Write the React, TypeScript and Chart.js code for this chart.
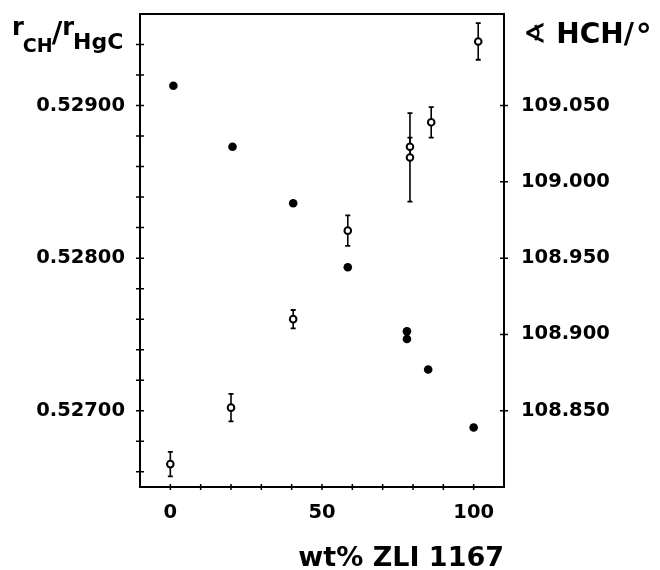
import React, { useEffect, useRef } from 'react';
import { Chart, registerables } from 'chart.js';

Chart.register(...registerables);

// ---- data ----
const ratioWt = [1, 20.5, 40.5, 58.5, 78, 78, 85, 100];
const ratioValues = [0.52913, 0.52873, 0.52836, 0.52794, 0.52752, 0.52747, 0.52727, 0.52689];

const angleWt = [0, 20, 40.5, 58.5, 79, 79, 86, 101.5];
const angleValues = [108.815, 108.852, 108.910, 108.968, 109.023, 109.016, 109.039, 109.092];
const angleErrors = [0.008, 0.009, 0.006, 0.010, 0.006, 0.029, 0.010, 0.012];

// ---- axes ----
const xMin = -10;
const xMax = 110;
const xTickValues = [0, 10, 20, 30, 40, 50, 60, 70, 80, 90, 100];
const xLabelValues = [0, 50, 100];

const leftMin = 0.5265;
const leftMax = 0.5296;
const leftMinorTicks = [0.5266, 0.5268, 0.527, 0.5272, 0.5274, 0.5276, 0.5278, 0.528, 0.5282, 0.5284, 0.5286, 0.5288, 0.529, 0.5292, 0.5294];
const leftLabelValues = [0.527, 0.528, 0.529];

const rightMin = 108.8;
const rightMax = 109.11;
const rightLabelValues = [108.85, 108.9, 108.95, 109.0, 109.05];

const xTitle = 'wt% ZLI 1167';
const FONT = 'DejaVu Sans';

const framePlugin = {
  id: 'framePlugin',
  beforeDatasetsDraw(chart: any) {
    const ctx = chart.ctx;
    const xs = chart.scales.x;
    const ys = chart.scales.y1;
    ctx.save();
    ctx.strokeStyle = '#000';
    for (let i = 0; i < angleWt.length; i++) {
      const px = xs.getPixelForValue(angleWt[i]);
      const top = ys.getPixelForValue(angleValues[i] + angleErrors[i]);
      const bot = ys.getPixelForValue(angleValues[i] - angleErrors[i]);
      ctx.lineWidth = 1.6;
      ctx.beginPath();
      ctx.moveTo(px, top);
      ctx.lineTo(px, bot);
      ctx.stroke();
      ctx.lineWidth = 1.8;
      ctx.beginPath();
      ctx.moveTo(px - 2.5, top);
      ctx.lineTo(px + 2.5, top);
      ctx.moveTo(px - 2.5, bot);
      ctx.lineTo(px + 2.5, bot);
      ctx.stroke();
    }
    ctx.restore();
  },
  afterDraw(chart: any) {
    const ctx = chart.ctx;
    const a = chart.chartArea;
    const xs = chart.scales.x;
    const yl = chart.scales.y;
    const yr = chart.scales.y1;
    ctx.save();
    ctx.strokeStyle = '#000';
    ctx.lineWidth = 2;
    ctx.strokeRect(a.left, a.top, a.right - a.left, a.bottom - a.top);
    ctx.lineWidth = 1.5;
    ctx.beginPath();
    for (const v of leftMinorTicks) {
      const py = yl.getPixelForValue(v);
      ctx.moveTo(a.left - 4, py);
      ctx.lineTo(a.left + 4, py);
    }
    for (const v of rightLabelValues) {
      const py = yr.getPixelForValue(v);
      ctx.moveTo(a.right - 4, py);
      ctx.lineTo(a.right + 4, py);
    }
    for (const v of xTickValues) {
      const px = xs.getPixelForValue(v);
      ctx.moveTo(px, a.bottom - 3);
      ctx.lineTo(px, a.bottom + 3);
    }
    ctx.stroke();

    ctx.fillStyle = '#000';
    ctx.textBaseline = 'alphabetic';
    // x title
    ctx.textAlign = 'right';
    ctx.font = `bold 27px "${FONT}"`;
    ctx.fillText(xTitle, a.right, 566);

    // left title r_CH / r_HgC
    ctx.textAlign = 'left';
    let x = 12;
    ctx.font = `bold 24px "${FONT}"`;
    ctx.fillText('r', x, 35);
    x += ctx.measureText('r').width - 1;
    ctx.font = `bold 19px "${FONT}"`;
    ctx.fillText('CH', x, 52);
    x += ctx.measureText('CH').width - 1;
    ctx.font = `bold 29px "${FONT}"`;
    ctx.fillText('/', x, 42);
    x += ctx.measureText('/').width;
    ctx.font = `bold 24px "${FONT}"`;
    ctx.fillText('r', x, 35);
    x += ctx.measureText('r').width - 1;
    ctx.font = `bold 22px "${FONT}"`;
    ctx.fillText('HgC', x, 49);

    // right title
    let rx = 523;
    ctx.font = `bold 28px "${FONT}"`;
    ctx.fillText('\u2222 HCH/', rx, 43);
    rx += ctx.measureText('\u2222 HCH/').width + 2;
    ctx.font = `bold 32px "${FONT}"`;
    ctx.fillText('\u00B0', rx, 47);
    ctx.restore();
  },
};

export default function App() {
  const ref = useRef<HTMLCanvasElement | null>(null);

  useEffect(() => {
    if (!ref.current) return;
    const tickFont = { family: FONT, size: 19.5, weight: 'bold' as const };
    const chart = new Chart(ref.current, {
      type: 'scatter',
      data: {
        datasets: [
          {
            label: 'r_CH/r_HgC',
            data: ratioWt.map((w, i) => ({ x: w, y: ratioValues[i] })),
            yAxisID: 'y',
            backgroundColor: '#000',
            borderColor: '#000',
            pointRadius: 4.3,
            borderWidth: 0,
          },
          {
            label: 'HCH',
            data: angleWt.map((w, i) => ({ x: w, y: angleValues[i] })),
            yAxisID: 'y1',
            backgroundColor: '#fff',
            borderColor: '#000',
            pointRadius: 3.3,
            borderWidth: 2,
          },
        ],
      },
      options: {
        responsive: false,
        animation: false,
        devicePixelRatio: 1,
        layout: { padding: { top: 14, left: 0, right: 0, bottom: 0 } },
        plugins: { legend: { display: false }, tooltip: { enabled: false } },
        scales: {
          x: {
            type: 'linear',
            position: 'bottom',
            min: xMin,
            max: xMax,
            afterBuildTicks: (s: any) => {
              s.ticks = xLabelValues.map((v) => ({ value: v }));
            },
            afterFit: (s: any) => {
              s.height = 83;
              s.paddingLeft = 0;
              s.paddingRight = 0;
            },
            ticks: { font: tickFont, color: '#000', padding: 14, maxRotation: 0, autoSkip: false, callback: (v: any) => String(v) },
            grid: { display: false, drawTicks: false },
            border: { display: false },
          },
          y: {
            type: 'linear',
            position: 'left',
            min: leftMin,
            max: leftMax,
            afterBuildTicks: (s: any) => {
              s.ticks = leftLabelValues.map((v) => ({ value: v }));
            },
            afterFit: (s: any) => {
              s.width = 140;
              s.paddingTop = 0;
              s.paddingBottom = 0;
            },
            ticks: { font: tickFont, color: '#000', padding: 15, autoSkip: false, callback: (v: any) => Number(v).toFixed(5) },
            grid: { display: false, drawTicks: false },
            border: { display: false },
          },
          y1: {
            type: 'linear',
            position: 'right',
            min: rightMin,
            max: rightMax,
            afterBuildTicks: (s: any) => {
              s.ticks = rightLabelValues.map((v) => ({ value: v }));
            },
            afterFit: (s: any) => {
              s.width = 156;
              s.paddingTop = 0;
              s.paddingBottom = 0;
            },
            ticks: { font: tickFont, color: '#000', padding: 17, autoSkip: false, callback: (v: any) => Number(v).toFixed(3) },
            grid: { display: false, drawTicks: false },
            border: { display: false },
          },
        },
      },
      plugins: [framePlugin],
    });
    return () => chart.destroy();
  }, []);

  return (
    <div style={{ position: 'absolute', left: 0, top: 0, width: 660, height: 570, background: '#fff' }}>
      <canvas ref={ref} width={660} height={570} style={{ display: 'block' }} />
    </div>
  );
}
